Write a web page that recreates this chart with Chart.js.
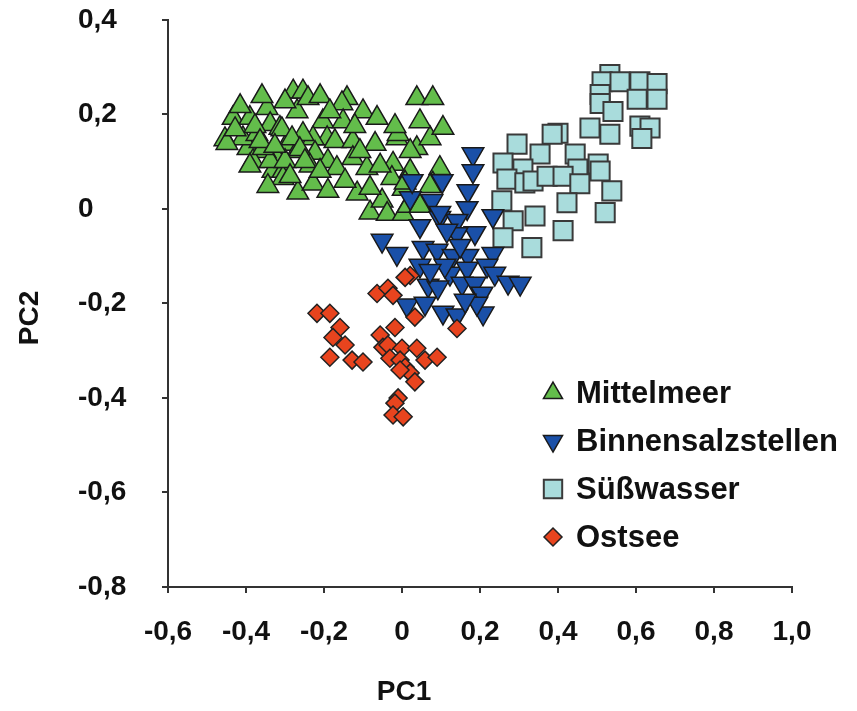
<!DOCTYPE html>
<html>
<head>
<meta charset="utf-8">
<script src="https://cdn.jsdelivr.net/npm/chart.js@4.4.0/dist/chart.umd.min.js"></script>
<style>
  html, body { margin: 0; padding: 0; background: #fff; }
  #wrap { width: 857px; height: 711px; }
</style>
</head>
<body>
<div id="wrap"><canvas id="pcaChart" width="857" height="711"></canvas></div>
<script>
// PCA scores, [PC1, PC2] per sample
const seriesNames = ['Mittelmeer', 'Binnensalzstellen', 'Süßwasser', 'Ostsee'];
const xTickLabels = ['-0,6', '-0,4', '-0,2', '0', '0,2', '0,4', '0,6', '0,8', '1,0'];
const yTickLabels = ['-0,8', '-0,6', '-0,4', '-0,2', '0', '0,2', '0,4'];
const axisTitles = ['PC1', 'PC2'];

const mittelmeer = [
  [-0.433, 0.192], [-0.454, 0.147], [-0.390, 0.192], [-0.395, 0.128], [-0.346, 0.213],
  [-0.338, 0.179], [-0.279, 0.248], [-0.254, 0.248], [-0.269, 0.206], [-0.241, 0.234],
  [-0.313, 0.171], [-0.295, 0.137], [-0.203, 0.185], [-0.192, 0.149], [-0.228, 0.149],
  [-0.254, 0.158], [-0.269, 0.122], [-0.141, 0.234], [-0.154, 0.223], [-0.151, 0.185],
  [-0.100, 0.206], [-0.064, 0.192], [-0.172, 0.143], [-0.126, 0.143], [-0.069, 0.137],
  [-0.223, 0.118], [-0.190, 0.101], [-0.331, 0.080], [-0.305, 0.080], [-0.267, 0.034],
  [-0.228, 0.053], [-0.190, 0.038], [-0.321, 0.107], [-0.351, 0.122], [-0.126, 0.107],
  [-0.090, 0.086], [-0.023, 0.095], [-0.013, 0.149], [0.038, 0.128], [0.072, 0.149],
  [0.105, 0.171], [0.038, 0.234], [0.079, 0.234], [-0.115, 0.032], [-0.082, -0.008],
  [-0.051, 0.017], [-0.038, -0.011], [0.003, -0.011], [0.015, 0.006], [-0.026, 0.065],
  [0.021, 0.080], [0.003, 0.042], [0.097, 0.086], [0.079, 0.053], [-0.082, 0.044],
  [-0.408, 0.149], [-0.372, 0.158], [-0.382, 0.101], [-0.338, 0.101], [-0.449, 0.139],
  [-0.308, 0.168], [-0.282, 0.149], [-0.356, 0.128], [-0.262, 0.126], [-0.167, 0.086],
  [-0.305, 0.065], [-0.300, 0.101], [-0.236, 0.091], [-0.377, 0.175], [-0.415, 0.217],
  [0.072, 0.048], [0.046, 0.006], [-0.010, 0.158], [0.008, 0.055],
  [-0.359, 0.238], [-0.300, 0.227], [-0.210, 0.238], [-0.185, 0.206], [-0.364, 0.143],
  [-0.326, 0.133], [-0.428, 0.168], [-0.287, 0.069], [-0.249, 0.101], [-0.210, 0.080],
  [-0.146, 0.059], [-0.108, 0.122], [-0.056, 0.091], [-0.018, 0.175], [0.046, 0.185],
  [0.021, 0.122], [-0.121, 0.175], [-0.344, 0.048], [-0.390, 0.091]
];

const binnensalzstellen = [
  [0.182, 0.116], [0.182, 0.080], [0.103, 0.059], [0.169, 0.038], [0.021, 0.023],
  [0.077, 0.017], [0.167, 0.002], [0.233, -0.015], [0.097, -0.019], [0.141, -0.025],
  [0.187, -0.051], [0.141, -0.053], [-0.051, -0.067], [-0.013, -0.095], [0.054, -0.082],
  [0.090, -0.088], [0.131, -0.099], [0.169, -0.099], [0.233, -0.095], [0.046, -0.120],
  [0.123, -0.137], [0.167, -0.126], [0.218, -0.120], [0.238, -0.137], [0.272, -0.156],
  [0.303, -0.158], [0.067, -0.162], [0.092, -0.166], [0.154, -0.158], [0.187, -0.158],
  [0.205, -0.179], [0.013, -0.204], [0.059, -0.200], [0.105, -0.219], [0.141, -0.225],
  [0.208, -0.221], [0.192, -0.200], [0.097, -0.008], [0.110, -0.120], [0.149, -0.078],
  [0.072, -0.131], [0.162, -0.194], [0.115, -0.046], [0.046, -0.036], [0.026, 0.059]
];

const suesswasser = [
  [0.533, 0.284], [0.513, 0.269], [0.559, 0.269], [0.610, 0.269], [0.654, 0.265],
  [0.508, 0.242], [0.603, 0.232], [0.654, 0.232], [0.508, 0.223], [0.541, 0.206],
  [0.482, 0.171], [0.533, 0.158], [0.610, 0.175], [0.636, 0.171], [0.615, 0.149],
  [0.400, 0.160], [0.385, 0.158], [0.295, 0.137], [0.354, 0.116], [0.444, 0.116],
  [0.259, 0.097], [0.503, 0.095], [0.508, 0.080], [0.310, 0.084], [0.451, 0.084],
  [0.269, 0.063], [0.315, 0.055], [0.336, 0.059], [0.372, 0.069], [0.413, 0.069],
  [0.456, 0.053], [0.538, 0.038], [0.256, 0.017], [0.423, 0.013], [0.341, -0.015],
  [0.521, -0.008], [0.285, -0.025], [0.413, -0.046], [0.259, -0.061], [0.333, -0.082]
];

const ostsee = [
  [0.021, -0.141], [0.008, -0.145], [-0.064, -0.179], [-0.036, -0.168], [-0.023, -0.183],
  [0.033, -0.229], [0.141, -0.253], [-0.218, -0.221], [-0.185, -0.221], [-0.159, -0.251],
  [-0.177, -0.272], [-0.146, -0.288], [-0.185, -0.314], [-0.128, -0.320], [-0.100, -0.324],
  [-0.018, -0.251], [-0.056, -0.267], [-0.049, -0.293], [-0.036, -0.288], [0.000, -0.295],
  [0.038, -0.295], [-0.031, -0.316], [-0.005, -0.320], [0.008, -0.335], [0.059, -0.320],
  [0.090, -0.314], [0.021, -0.347], [0.033, -0.366], [-0.005, -0.341], [-0.010, -0.400],
  [-0.018, -0.411], [-0.023, -0.436], [0.003, -0.440]
];

const FONT = '"Liberation Sans", Arial, Helvetica, sans-serif';
const AXIS_COLOR = '#333';

const toPoints = rows => rows.map(([x, y]) => ({ x, y }));

const markerStyles = [
  { pointStyle: 'triangle', rotation: 0, radius: 12.5, fill: '#63bd4b', stroke: '#1a1a1a', lw: 1.5, order: 4 },
  { pointStyle: 'triangle', rotation: 180, radius: 12.5, fill: '#1a50a8', stroke: '#1a1a1a', lw: 1.5, order: 2 },
  { pointStyle: 'rect', rotation: 0, radius: 13.5, fill: '#a9dcdc', stroke: '#3a3a3a', lw: 2, order: 3 },
  { pointStyle: 'rectRot', rotation: 0, radius: 9, fill: '#e8441e', stroke: '#222', lw: 1.5, order: 1 }
];

// draws a legend symbol in the same shape as the chart markers
function drawMarker(ctx, st, x, y, r) {
  ctx.beginPath();
  if (st.pointStyle === 'triangle') {
    const dir = st.rotation === 180 ? -1 : 1;
    ctx.moveTo(x, y - dir * r);
    ctx.lineTo(x + r * 0.866, y + dir * r * 0.5);
    ctx.lineTo(x - r * 0.866, y + dir * r * 0.5);
    ctx.closePath();
  } else if (st.pointStyle === 'rect') {
    const s = r * Math.SQRT1_2;
    ctx.rect(x - s, y - s, 2 * s, 2 * s);
  } else {
    ctx.moveTo(x, y - r);
    ctx.lineTo(x + r, y);
    ctx.lineTo(x, y + r);
    ctx.lineTo(x - r, y);
    ctx.closePath();
  }
  ctx.fillStyle = st.fill;
  ctx.fill();
  ctx.lineWidth = st.lw;
  ctx.strokeStyle = st.stroke;
  ctx.stroke();
}

const decorPlugin = {
  id: 'pcaDecor',
  afterDraw(chart) {
    const { ctx, scales: { x } } = chart;
    ctx.save();
    ctx.fillStyle = '#111';
    ctx.font = `bold 28px ${FONT}`;
    ctx.textAlign = 'center';
    ctx.textBaseline = 'middle';
    ctx.fillText(axisTitles[0], x.getPixelForValue(0) + 2, 692);
    ctx.save();
    ctx.translate(30, 318);
    ctx.rotate(-Math.PI / 2);
    ctx.fillText(axisTitles[1], 0, 0);
    ctx.restore();

    // legend inside the plot, lower right
    const legendSizes = [11, 11, 13, 9];
    ctx.font = `bold 31px ${FONT}`;
    ctx.textAlign = 'left';
    seriesNames.forEach((name, i) => {
      const y = 393 + i * 48;
      drawMarker(ctx, markerStyles[i], 553, y, legendSizes[i]);
      ctx.fillStyle = '#111';
      ctx.fillText(name, 576, y + 1);
    });
    ctx.restore();
  }
};

const allSeries = [mittelmeer, binnensalzstellen, suesswasser, ostsee];

new Chart(document.getElementById('pcaChart').getContext('2d'), {
  type: 'scatter',
  data: {
    datasets: allSeries.map((rows, i) => {
      const st = markerStyles[i];
      return {
        label: seriesNames[i],
        data: toPoints(rows),
        pointStyle: st.pointStyle,
        rotation: st.rotation,
        pointRadius: st.radius,
        backgroundColor: st.fill,
        borderColor: st.stroke,
        borderWidth: st.lw,
        order: st.order
      };
    })
  },
  options: {
    responsive: false,
    animation: false,
    events: [],
    layout: { padding: { left: 78, top: 18, right: 65, bottom: 0 } },
    plugins: {
      legend: { display: false },
      tooltip: { enabled: false }
    },
    scales: {
      x: {
        type: 'linear',
        min: -0.6,
        max: 1.0,
        afterFit: s => { s.height = 124; },
        border: { color: AXIS_COLOR, width: 2 },
        grid: { drawOnChartArea: false, color: AXIS_COLOR, lineWidth: 2, tickLength: 6 },
        ticks: {
          stepSize: 0.2,
          padding: 22,
          color: '#111',
          font: { family: FONT, size: 28, weight: 'bold' },
          callback: (v, i) => xTickLabels[i]
        }
      },
      y: {
        type: 'linear',
        min: -0.8,
        max: 0.4,
        afterFit: s => { s.width = 90; },
        border: { color: AXIS_COLOR, width: 2 },
        grid: { drawOnChartArea: false, color: AXIS_COLOR, lineWidth: 2, tickLength: 6 },
        ticks: {
          stepSize: 0.2,
          crossAlign: 'far',
          color: '#111',
          font: { family: FONT, size: 28, weight: 'bold' },
          callback: (v, i) => yTickLabels[i]
        }
      }
    }
  },
  plugins: [decorPlugin]
});
</script>
</body>
</html>
